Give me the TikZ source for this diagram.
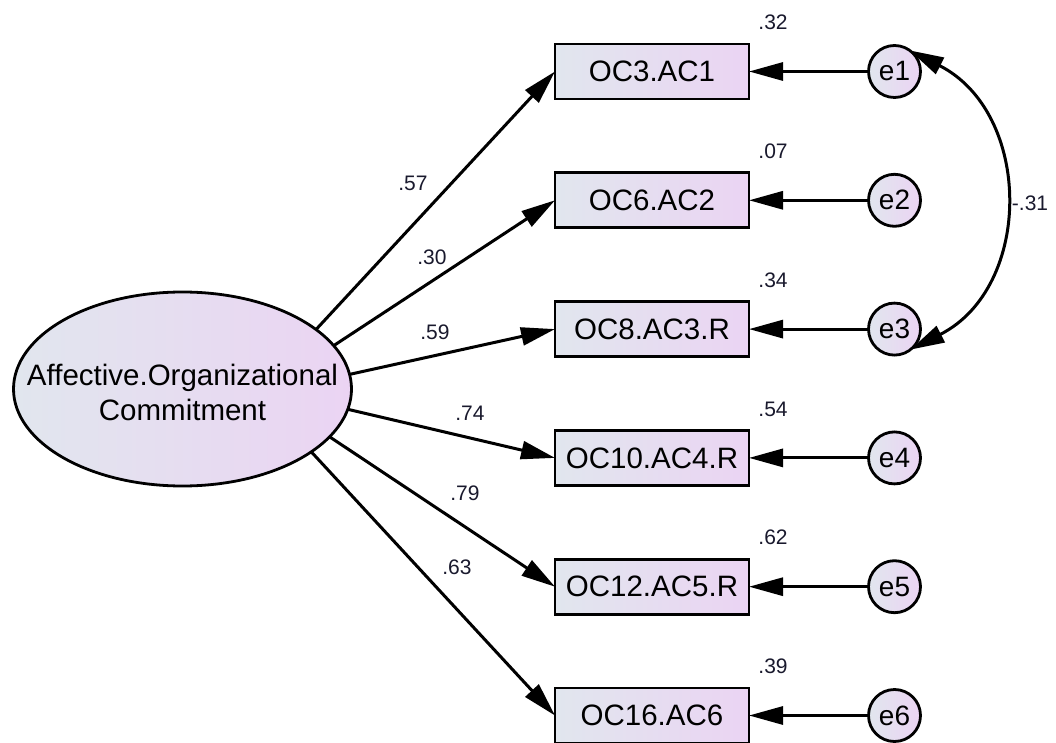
\documentclass[tikz,border=0pt]{standalone}
\usepackage{fontspec}
\setmainfont{Liberation Sans}
\usetikzlibrary{arrows.meta,shapes.geometric}
\definecolor{fillL}{RGB}{225,230,238}
\definecolor{fillR}{RGB}{235,212,243}
\definecolor{numcol}{RGB}{25,25,45}
\tikzset{
  obs/.style={draw, line width=2.8pt, left color=fillL, right color=fillR,
    minimum width=194pt, minimum height=55pt, inner sep=0pt, outer sep=0pt,
    font=\fontsize{29.5}{35}\selectfont},
  lat/.style={ellipse, draw, line width=2.8pt, left color=fillL, right color=fillR,
    minimum width=338pt, minimum height=194pt, inner sep=0pt, outer sep=0pt},
  lattext/.style={align=center, inner sep=0pt, font=\fontsize{29.5}{35}\selectfont},
  err/.style={circle, draw, line width=2.8pt, left color=fillL, right color=fillR,
    minimum size=52pt, inner sep=0pt, outer sep=0pt,
    font=\fontsize{28}{30}\selectfont},
  load/.style={line width=3pt, -{Triangle[length=34pt,width=18pt]}},
  cov/.style={line width=3pt, {Triangle[length=34pt,width=18pt]}-{Triangle[length=34pt,width=18pt]}},
  num/.style={font=\fontsize{21}{24}\selectfont, text=numcol, inner sep=0pt},
}
\begin{document}
\begin{tikzpicture}[x=1pt,y=1pt]
\clip (0,0) rectangle (1056,742);

% latent factor
\node[lat] (F) at (182.5,353) {};
\node[lattext] (Ft) at ([yshift=-3pt]F.center) {Affective.Organizational\\Commitment};

% indicators
\node[obs] (b1) at (652,670.5) {OC3.AC1};
\node[obs] (b2) at (652,541.7) {OC6.AC2};
\node[obs] (b3) at (652,412.9) {OC8.AC3.R};
\node[obs] (b4) at (652,284.1) {OC10.AC4.R};
\node[obs] (b5) at (652,155.3) {OC12.AC5.R};
\node[obs] (b6) at (652,26.5) {OC16.AC6};

% error terms
\node[err] (e1) at (894.5,670.5) {e1};
\node[err] (e2) at (894.5,541.7) {e2};
\node[err] (e3) at (894.5,412.9) {e3};
\node[err] (e4) at (894.5,284.1) {e4};
\node[err] (e5) at (894.5,155.3) {e5};
\node[err] (e6) at (894.5,26.5) {e6};

% factor loadings
\draw[load] (F.24) -- (b1.west);
\draw[load] (F.16) -- (b2.west);
\draw[load] (F.5) -- (b3.west);
\draw[load] (F.-7) -- (b4.west);
\draw[load] (F.-18) -- (b5.west);
\draw[load] (F.-26) -- (b6.west);

\node[num] (l1) at (413,559) {.57};
\node[num] (l2) at (432,485) {.30};
\node[num] (l3) at (435,410) {.59};
\node[num] (l4) at (470,329) {.74};
\node[num] (l5) at (465,249) {.79};
\node[num] (l6) at (457,175) {.63};

% error paths
\foreach \i in {1,...,6}{
  \draw[load] (e\i.west) -- (b\i.east);
}

% squared multiple correlations
\node[num] (r1) at ([xshift=121pt,yshift=49pt]b1.center) {.32};
\node[num] (r2) at ([xshift=121pt,yshift=49pt]b2.center) {.07};
\node[num] (r3) at ([xshift=121pt,yshift=49pt]b3.center) {.34};
\node[num] (r4) at ([xshift=121pt,yshift=49pt]b4.center) {.54};
\node[num] (r5) at ([xshift=121pt,yshift=49pt]b5.center) {.62};
\node[num] (r6) at ([xshift=121pt,yshift=49pt]b6.center) {.39};

% error covariance
\draw[cov] (e1.54) .. controls +(-27:138pt) and +(27:138pt) .. (e3.-52);
\node[num] (c13) at (1030,539) {-.31};
\end{tikzpicture}
\end{document}
